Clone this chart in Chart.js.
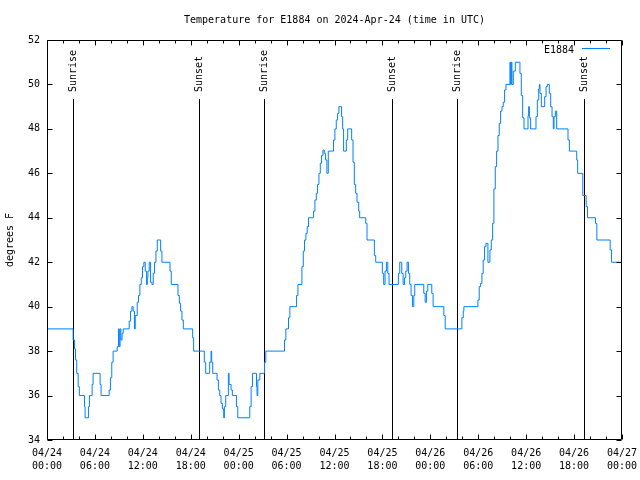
<!DOCTYPE html>
<html>
<head>
<meta charset="utf-8">
<title>Temperature for E1884</title>
<script src="https://cdn.jsdelivr.net/npm/chart.js@4.4.1/dist/chart.umd.min.js"></script>
<style>
  html, body { margin: 0; padding: 0; background: #fff; }
  #wrap { width: 640px; height: 480px; }
</style>
</head>
<body>
<div id="wrap"><canvas id="tempChart" width="640" height="480"></canvas></div>
<script>
// Hours since 04/24 00:00 UTC, and temperature (F) from that point on
const hours = [
    0, 3.27, 3.45, 3.57, 3.72, 3.9, 4.05, 4.69, 4.77, 5.19, 5.31, 5.65, 5.77, 6.65, 6.77,
    7.78, 7.94, 8.11, 8.28, 8.79, 8.95, 9.05, 9.15, 9.25, 9.4, 9.54, 10.29, 10.46, 10.63,
    10.79, 10.95, 11.05, 11.3, 11.46, 11.63, 11.8, 11.96, 12.13, 12.3, 12.47, 12.56, 12.64,
    12.8, 12.97, 13.14, 13.3, 13.47, 13.64, 13.81, 14.23, 14.39, 15.4, 15.56, 16.4, 16.57,
    16.73, 16.9, 17.07, 18.24, 18.36, 19.7, 19.87, 20.37, 20.54, 20.62, 20.75, 21.29, 21.46,
    21.63, 21.79, 21.96, 22.13, 22.21, 22.38, 22.71, 22.8, 23.05, 23.21, 23.72, 23.89, 25.39,
    25.56, 25.73, 26.23, 26.3, 26.4, 26.65, 27.24, 27.4, 29.74, 29.91, 30.24, 30.41, 31.25,
    31.42, 31.92, 32.09, 32.25, 32.42, 32.58, 32.75, 33.38, 33.55, 33.72, 33.88, 34.05, 34.22,
    34.38, 34.55, 34.72, 34.88, 35.05, 35.22, 35.88, 36.05, 36.22, 36.39, 36.55, 36.89, 37.02,
    37.14, 37.48, 37.65, 38.15, 38.32, 38.48, 38.65, 38.82, 39.03, 39.15, 39.91, 40.07, 40.99,
    41.16, 41.99, 42.16, 42.33, 42.5, 42.67, 42.83, 44.0, 44.17, 44.42, 44.59, 44.76, 44.92,
    45.09, 45.26, 45.42, 45.59, 45.76, 45.93, 46.05, 47.18, 47.35, 47.51, 47.68, 48.18, 48.35,
    49.69, 49.86, 51.95, 52.12, 52.2, 53.96, 54.12, 54.29, 54.46, 54.62, 54.79, 54.96, 55.21,
    55.46, 55.63, 55.8, 55.96, 56.13, 56.3, 56.47, 56.63, 56.8, 56.97, 57.13, 57.3, 57.47,
    57.97, 58.05, 58.14, 58.22, 58.39, 58.64, 59.22, 59.39, 59.56, 59.73, 60.23, 60.31, 60.4,
    60.56, 61.23, 61.4, 61.57, 61.65, 61.73, 61.9, 62.32, 62.49, 62.65, 62.9, 63.07, 63.24,
    63.4, 63.49, 63.66, 63.82, 65.24, 65.41, 66.33, 66.45, 67.09, 67.51, 67.68, 68.68, 68.85,
    70.52, 70.69, 72
];
const temps = [
    39, 38.5, 38.1, 37.6, 37, 36.4, 36, 35.5, 35, 35.5, 36, 36.5, 37, 36.5, 36,
    36.25, 36.8, 37.5, 38, 38.2, 39, 38.2, 39, 38.5, 38.8, 39, 39.35, 39.8, 40,
    39.8, 39, 39.6, 40.2, 40.5, 41, 41.3, 41.8, 42, 41.6, 41, 41.3, 41.6,
    42, 41.1, 41, 41.5, 42, 42.5, 43, 42.5, 42, 41.6, 41, 40.5, 40.15,
    39.8, 39.4, 39, 38.6, 38, 37.5, 37, 37.5, 38, 37.5, 37, 36.7, 36.25,
    36, 35.65, 35.4, 35, 35.5, 36, 37, 36.5, 36.25, 36, 35.5, 35, 35.5,
    36.4, 37, 36.4, 36, 36.7, 37, 37.5, 38, 38.5, 39, 39.5, 40, 40.5,
    41, 41.8, 42.5, 43, 43.3, 43.6, 44, 44.3, 44.8, 45.1, 45.5, 46, 46.45,
    46.8, 47.05, 46.9, 46.6, 46, 47, 47.5, 48, 48.4, 48.7, 49, 48.55, 48,
    47, 47.5, 48, 47.5, 46.5, 45.5, 45.1, 44.7, 44.3, 44, 43.75, 43, 42.3,
    42, 41.5, 41, 41.6, 42, 41.5, 41, 41.5, 42, 41.5, 41, 41.3, 41.6,
    42, 41.5, 41, 40.5, 40, 40.5, 41, 40.6, 40.2, 40.7, 41, 40.6, 40,
    39.6, 39, 39.5, 39.8, 40, 40.3, 40.9, 41.05, 41.5, 42.1, 42.7, 42.85, 42,
    42.55, 43, 43.75, 45.3, 46.3, 47, 47.7, 48.25, 48.8, 49, 49.2, 49.75, 50,
    51, 50, 51, 50, 50.6, 51, 50.5, 49.5, 48.5, 48, 48.6, 49, 48.5,
    48, 48.55, 49.3, 49.8, 50, 49.6, 49, 49.45, 49.9, 50, 49.6, 49, 48.55,
    48, 48.55, 48.8, 48, 47.5, 47, 46.6, 46, 45, 44.5, 44, 43.75, 43,
    42.55, 42, 42
];

// Sunrise / sunset times (hours since start)
const sunHours = [3.26, 19.08, 27.23, 43.15, 51.28, 67.25];
const sunLabels = ['Sunrise', 'Sunset', 'Sunrise', 'Sunset', 'Sunrise', 'Sunset'];

const xTickDates = ['04/24', '04/24', '04/24', '04/24', '04/25', '04/25', '04/25', '04/25',
                    '04/26', '04/26', '04/26', '04/26', '04/27'];
const xTickTimes = ['00:00', '06:00', '12:00', '18:00', '00:00', '06:00', '12:00', '18:00',
                    '00:00', '06:00', '12:00', '18:00', '00:00'];

const seriesName = 'E1884';
const chartTitle = 'Temperature for E1884 on 2024-Apr-24 (time in UTC)';
const LINE_COLOR = 'rgb(0,128,255)';
const FONT_FAMILY = '"DejaVu Sans Mono", "Liberation Mono", monospace';
const FONT = '10px ' + FONT_FAMILY;

Chart.defaults.color = '#000';
Chart.defaults.font.family = FONT_FAMILY;
Chart.defaults.font.size = 10;

// gnuplot-ish frame: border, inward ticks, title, legend, sun markers
const gnuplotFrame = {
    id: 'gnuplotFrame',
    beforeDatasetsDraw(chart) {
        const { ctx, chartArea: a, scales: { x } } = chart;
        ctx.save();
        ctx.strokeStyle = '#000';
        ctx.fillStyle = '#000';
        ctx.lineWidth = 1;
        ctx.font = FONT;
        sunHours.forEach((h, i) => {
            const px = Math.round(x.getPixelForValue(h)) + 0.5;
            ctx.beginPath();
            ctx.moveTo(px, a.top + 59);
            ctx.lineTo(px, a.bottom);
            ctx.stroke();
            ctx.save();
            ctx.translate(px, a.top + 52);
            ctx.rotate(-Math.PI / 2);
            ctx.textAlign = 'left';
            ctx.textBaseline = 'middle';
            ctx.fillText(sunLabels[i], 0, 0);
            ctx.restore();
        });
        ctx.restore();
    },
    afterDraw(chart) {
        const { ctx, chartArea: a, scales: { x, y } } = chart;
        const L = Math.round(a.left) + 0.5, R = Math.round(a.right) - 0.5;
        const T = Math.round(a.top) + 0.5, B = Math.round(a.bottom) - 0.5;
        ctx.save();
        ctx.strokeStyle = '#000';
        ctx.lineWidth = 1;
        ctx.beginPath();
        ctx.rect(L, T, R - L, B - T);
        // y ticks on both sides
        y.ticks.forEach(t => {
            const py = Math.round(y.getPixelForValue(t.value)) + 0.5;
            ctx.moveTo(L, py); ctx.lineTo(L + 5, py);
            ctx.moveTo(R, py); ctx.lineTo(R - 5, py);
        });
        // x ticks: major every 6h, minor every 2h, bottom and top
        for (let h = x.min; h <= x.max; h += 2) {
            const px = Math.round(x.getPixelForValue(h)) + 0.5;
            const len = h % 6 === 0 ? 5 : 3;
            ctx.moveTo(px, B); ctx.lineTo(px, B - len);
            ctx.moveTo(px, T); ctx.lineTo(px, T + len);
        }
        ctx.stroke();

        // title
        ctx.fillStyle = '#000';
        ctx.font = FONT;
        ctx.textAlign = 'center';
        ctx.textBaseline = 'alphabetic';
        ctx.fillText(chartTitle, (a.left + a.right) / 2, 23);

        // legend
        ctx.textAlign = 'right';
        ctx.textBaseline = 'middle';
        ctx.fillText(seriesName, a.right - 48, a.top + 10);
        ctx.strokeStyle = LINE_COLOR;
        ctx.beginPath();
        ctx.moveTo(a.right - 40, a.top + 8.5);
        ctx.lineTo(a.right - 12, a.top + 8.5);
        ctx.stroke();
        ctx.restore();
    }
};

const canvas = document.getElementById('tempChart');
new Chart(canvas, {
    type: 'line',
    data: {
        datasets: [{
            label: seriesName,
            data: hours.map((h, i) => ({ x: h, y: temps[i] })),
            borderColor: LINE_COLOR,
            borderWidth: 1,
            pointRadius: 0,
            stepped: true,
            fill: false
        }]
    },
    options: {
        responsive: false,
        animation: false,
        layout: { padding: { top: 40, right: 18, left: 0, bottom: 0 } },
        plugins: {
            legend: { display: false },
            title: { display: false },
            tooltip: { enabled: false }
        },
        scales: {
            x: {
                type: 'linear',
                min: 0,
                max: 72,
                grid: { display: false, drawTicks: false },
                border: { display: false },
                ticks: {
                    stepSize: 6,
                    autoSkip: false,
                    maxRotation: 0,
                    padding: 7,
                    font: { size: 10, lineHeight: 1.3 },
                    callback: (value, index) => [xTickDates[index], xTickTimes[index]]
                },
                afterFit: (scale) => {
                    scale.height = 40;
                    scale.paddingLeft = 0;
                    scale.paddingRight = 0;
                }
            },
            y: {
                min: 34,
                max: 52,
                grid: { display: false, drawTicks: false },
                border: { display: false },
                ticks: { stepSize: 2, padding: 7, font: { size: 10 } },
                title: {
                    display: true,
                    text: 'degrees F',
                    font: { size: 10, lineHeight: 1.2 },
                    padding: { top: 4, bottom: 0 }
                },
                afterFit: (scale) => {
                    scale.width = 47;
                    scale.paddingTop = 0;
                    scale.paddingBottom = 0;
                }
            }
        }
    },
    plugins: [gnuplotFrame]
});
</script>
</body>
</html>
